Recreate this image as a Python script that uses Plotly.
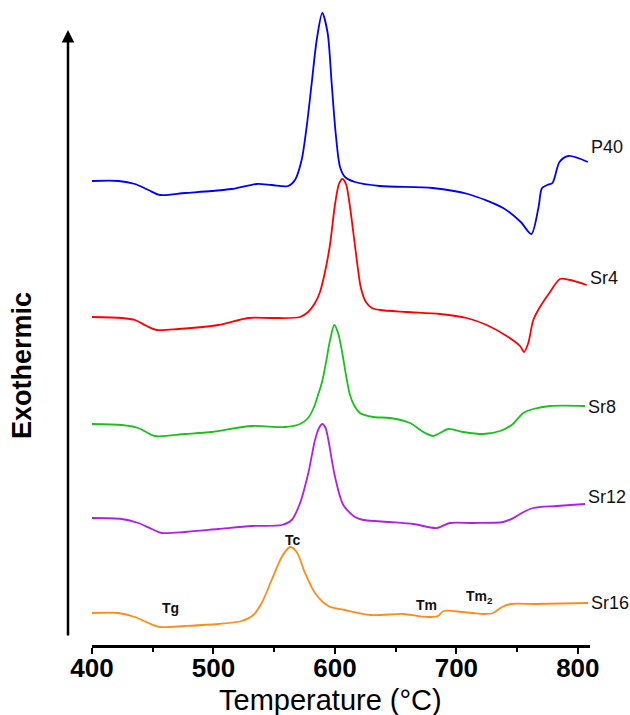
import plotly.graph_objects as go

# Temperature (°C) and heat flow (a.u., offset per curve)
p40_T = [400, 422, 435.4, 446.4, 456, 476.6, 498.6, 515, 535.6, 548, 561.6, 567.1, 572.6, 576.7, 580.9, 585, 589.6, 594, 597.3, 600.6, 604.2, 608.3, 616.5, 636.9, 680.4, 709.5, 738.5, 753, 761.7, 767.5, 770.5, 774.8, 779.1, 784.9, 792.2, 808.2]
p40_v = [534, 534, 531, 525, 520, 522, 524, 526, 531, 530, 529, 535, 555, 588, 632, 675, 702, 682, 632, 582, 548, 538, 533, 529, 527, 521, 507, 493, 481, 507, 527, 530, 532, 553, 559, 553]

sr4_T = [400, 424.5, 435.4, 445, 453.3, 471.1, 504, 528.7, 548, 571.3, 577.9, 583.6, 587.7, 591.8, 595.9, 600, 603.3, 606.1, 609.1, 611.6, 614.9, 618.2, 621.4, 625.5, 630.5, 637, 659.1, 686.5, 708.5, 725, 741.4, 752.4, 755.7, 759.2, 763.3, 768.8, 777.1, 785.3, 793.5, 807.3]
sr4_v = [398, 397, 395, 389, 385, 386, 390, 397, 397, 398, 403, 412, 423, 443, 470, 510, 531, 536, 531, 515, 485, 453, 427, 413, 407, 405, 403, 401, 397, 390, 379, 369, 363, 372, 395, 408, 423, 436, 435, 430]

sr8_T = [400, 424.5, 438.1, 451.9, 476.6, 498.6, 531.5, 558.9, 571.3, 577.9, 582.8, 586.1, 589.4, 592.7, 596, 599.5, 602.6, 605.9, 609.1, 612.4, 615.7, 620.6, 631.6, 645.4, 661.8, 672.8, 681, 686.5, 693.4, 705.7, 722.2, 735.9, 745.5, 755.1, 763.3, 777.1, 805.9]
sr8_v = [291, 290, 287, 279, 281, 283, 289, 288, 291, 297, 308, 320, 333, 353, 375, 390, 382, 363, 340, 320, 310, 302, 298, 297, 292, 283, 279, 282, 286, 283, 281, 284, 290, 302, 306, 309, 309]

sr12_T = [400, 424.5, 438.1, 449.2, 457.4, 476.6, 504, 531.5, 556.2, 564.4, 571.3, 578.1, 583.6, 586.9, 589.6, 592.3, 594.6, 600.1, 606.9, 616.5, 623.4, 645.3, 664.5, 683.8, 694.7, 713.9, 738.6, 746.9, 753.8, 763.3, 782.6, 805.9]
sr12_v = [197, 196, 192, 186, 182, 183, 186, 189, 190, 195, 212, 242, 275, 287, 291, 287, 275, 238, 210, 198, 195, 193, 191, 187, 192, 192, 193, 197, 202, 207, 209, 211]

sr16_T = [400, 421.7, 435.4, 446.4, 456, 476.6, 504, 523.2, 532.8, 539.7, 547.9, 556.2, 563, 568.5, 575.4, 583.6, 594.5, 608.3, 629.4, 656.4, 668.4, 678.9, 684.9, 689.5, 704.5, 713.6, 722.6, 730.1, 737.6, 745.1, 764.7, 808.4]
sr16_v = [102, 102, 98, 92, 88, 89, 91, 94, 100, 112, 135, 158, 168, 163, 142, 122, 109, 105, 100, 101, 99, 98, 99, 104, 103, 102, 101, 102, 108, 111, 111, 112]

names = ["P40", "Sr4", "Sr8", "Sr12", "Sr16"]
colors = ["#0000FF", "#FF0000", "#19C219", "#B01FE6", "#FF8C1A"]
label_y = [568, 437, 308, 218, 112]

# event labels on Sr16: (text, T, value)
ev_text = ["Tg", "Tc", "Tm", "Tm<sub>2</sub>"]
ev_T = [465, 565.6, 675, 719.4]
ev_v = [107, 175, 110, 118]

FONT = "Arial, Liberation Sans, sans-serif"

fig = go.Figure()
series = [(p40_T, p40_v), (sr4_T, sr4_v), (sr8_T, sr8_v), (sr12_T, sr12_v), (sr16_T, sr16_v)]
for (T, v), n, c in zip(series, names, colors):
    fig.add_trace(go.Scatter(x=T, y=v, mode="lines", name=n,
                             line=dict(color=c, width=1.8, shape="spline", smoothing=0.8),
                             showlegend=False, hoverinfo="skip"))

for n, (T, v), ly in zip(names, series, label_y):
    fig.add_annotation(x=T[-1], y=ly, text=n, showarrow=False, xanchor="left",
                       yanchor="middle", xshift=1,
                       font=dict(family=FONT, size=18, color="#111111"))

for t, x, y in zip(ev_text, ev_T, ev_v):
    fig.add_annotation(x=x, y=y, text="<b>" + t + "</b>", showarrow=False,
                       xanchor="center", yanchor="middle",
                       font=dict(family=FONT, size=14, color="#111111"))

# vertical "Exothermic" arrow
fig.add_annotation(xref="paper", yref="y", x=-0.0482, y=685, ax=0, ay=607,
                   text="", showarrow=True, arrowhead=2, arrowsize=1,
                   arrowwidth=2.5, arrowcolor="black", standoff=0)
fig.add_annotation(xref="paper", yref="paper", x=-0.1406, y=0.441,
                   text="<b>Exothermic</b>", showarrow=False, textangle=-90,
                   xanchor="center", yanchor="middle",
                   font=dict(family=FONT, size=27, color="black"))
fig.add_annotation(xref="paper", yref="paper", x=0.478, y=-0.0866,
                   text="Temperature (°C)", showarrow=False,
                   xanchor="center", yanchor="middle",
                   font=dict(family=FONT, size=29, color="black"))

fig.update_layout(
    width=630, height=715,
    margin=dict(l=92, r=40, t=10, b=70),
    paper_bgcolor="white", plot_bgcolor="white",
    xaxis=dict(range=[400, 810], showline=True, linecolor="black", linewidth=2.5,
               ticks="outside", ticklen=6, tickwidth=2, tickcolor="black",
               tickvals=[400, 500, 600, 700, 800],
               ticktext=["<b>400</b>", "<b>500</b>", "<b>600</b>", "<b>700</b>", "<b>800</b>"],
               tickfont=dict(family=FONT, size=26, color="black"),
               ticklabelstandoff=-8,
               minor=dict(ticks="outside", ticklen=4, tickwidth=2, tickcolor="black", dtick=50, tick0=400, showgrid=False),
               showgrid=False, zeroline=False),
    yaxis=dict(range=[70, 705], visible=False, showgrid=False, zeroline=False),
)

fig.write_html("out.html", config={"displayModeBar": False},
               post_script="document.body.style.margin='0';document.body.style.padding='0';document.body.style.overflow='hidden';")
